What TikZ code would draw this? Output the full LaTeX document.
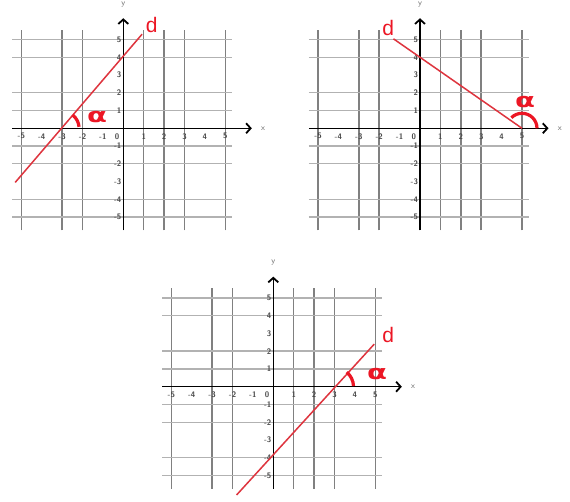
\documentclass[tikz,border=0pt]{standalone}
\usepackage{fontspec}
\newfontfamily\dvs{DejaVu Sans}
\newfontfamily\lsans{Liberation Sans}
\usetikzlibrary{arrows.meta}
\definecolor{linered}{RGB}{222,52,62}
\definecolor{markred}{RGB}{236,22,36}
\newcommand\plotpanel[2]{%
\begin{scope}[shift={#2}, x=20.4pt, y=17.75pt]
  \foreach \i in {-5,-3,-2,1,2,3,5} \draw[vgrid] (\i,-5.75) -- (\i,5.55);
  \foreach \j in {-5,-4,-2,-1,1,2,4,5} \draw[hgrid] (-5.45,\j) -- (5.35,\j);
  \draw[axis,axarrow] (-5.45,0) -- (6.3,0);
  \draw[axis,axarrow] (0,-5.75) -- (0,6.2);
  \node[axlabel] (#1x) at (6.85,0) {x};
  \node[axlabel] (#1y) at (0,7.0) {y};
  \foreach \i in {-5,-4,-3,-2,-1,1,2,3,4,5} \node[tick] (#1t\i) at (\i,-0.45) {\i};
  \node[tick] (#1t0) at (-0.3,-0.45) {0};
  \foreach \j in {-5,-4,-3,-2,-1,1,2,3,4,5} \node[tick,anchor=east] (#1v\j) at (-0.06,\j) {\j};
\end{scope}}
\begin{document}
\begin{tikzpicture}[x=1pt,y=1pt,
  vgrid/.style={draw=black!50, line width=1.5pt},
  hgrid/.style={draw=black!30, line width=1.4pt},
  axis/.style={draw=black, line width=1.5pt},
  axarrow/.style={-{Straight Barb[length=4.5pt,width=10pt,line width=1.8pt]}},
  tick/.style={font=\sffamily\bfseries\fontsize{8}{8}\selectfont, text=black!72, inner sep=0.5pt},
  axlabel/.style={font=\sffamily\fontsize{8}{8}\selectfont, text=black!60, inner sep=0.5pt},
  redline/.style={draw=linered, line width=1.5pt},
  anglearc/.style={draw=markred, line width=3.2pt},
  dlabel/.style={text=markred, font=\lsans\fontsize{21}{21}\selectfont, inner sep=0pt},
  alabel/.style={text=markred, font=\dvs\bfseries\fontsize{20}{20}\selectfont, inner sep=0pt, xscale=1.45},
]
\useasboundingbox (0,-502) rectangle (570,0);
\fill[white] (0,-502) rectangle (570,0);

% panel 1
\plotpanel{p1}{(123.3pt,-128.3pt)}
\begin{scope}[shift={(123.3pt,-128.3pt)}, x=20.4pt, y=17.75pt]
  \draw[redline] (-5.3,-3.05) -- (0.92,5.3);
  \draw[anglearc] ([shift={(52:17pt)}]-3,0) arc[start angle=52,end angle=5,radius=17pt];
\end{scope}
\node[dlabel] (d1) at (151.7,-25) {d};
\node[alabel] (a1) at (97,-117) {α};

% panel 2
\plotpanel{p2}{(420pt,-128.3pt)}
\begin{scope}[shift={(420pt,-128.3pt)}, x=20.4pt, y=17.75pt]
  \draw[redline] (-1.3,5.04) -- (5,0);
  \draw[anglearc] ([shift={(135:15pt)}]5,0) arc[start angle=135,end angle=0,radius=15pt];
\end{scope}
\node[dlabel] (d2) at (388.3,-28.3) {d};
\node[alabel] (a2) at (525,-102) {α};

% panel 3
\plotpanel{p3}{(273.3pt,-386.7pt)}
\begin{scope}[shift={(273.3pt,-386.7pt)}, x=20.4pt, y=17.75pt]
  \draw[redline] (-1.8,-6.1) -- (4.95,2.4);
  \draw[anglearc] ([shift={(50:19pt)}]3,0) arc[start angle=50,end angle=2,radius=19pt];
\end{scope}
\node[dlabel] (d3) at (388.3,-335) {d};
\node[alabel] (a3) at (377,-374) {α};
\end{tikzpicture}
\end{document}
